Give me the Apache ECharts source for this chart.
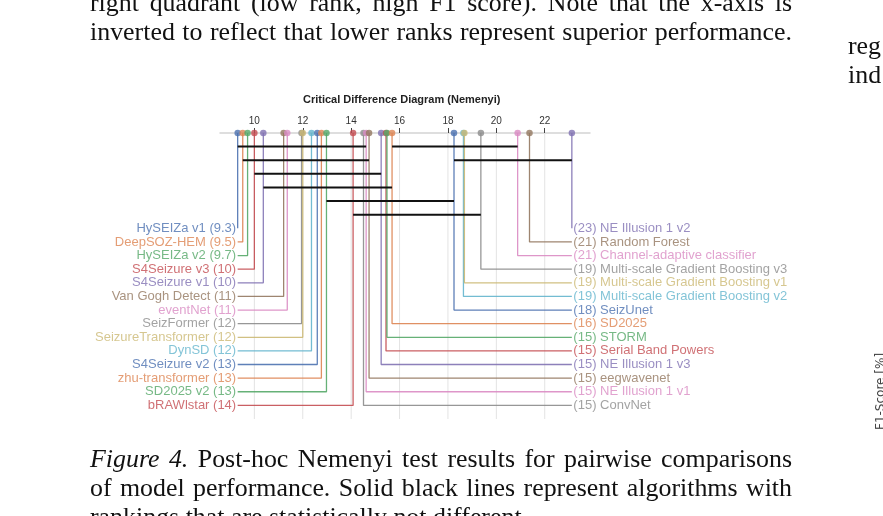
<!DOCTYPE html>
<html>
<head>
<meta charset="utf-8">
<script src="https://cdn.jsdelivr.net/npm/echarts@6/dist/echarts.min.js"></script>
<style>
html, body { margin: 0; padding: 0; background: #fff; }
#page { position: relative; width: 883px; height: 516px; overflow: hidden; }
#chart { position: absolute; left: 0; top: 0; width: 883px; height: 516px; }
.txt { position: absolute; font-family: 'Liberation Serif', 'Times New Roman', serif; font-size: 25.9px; line-height: 29px; color: #111; white-space: nowrap; }
.just { left: 90px; width: 702px; text-align: justify; text-align-last: justify; white-space: normal; }
.side { position: absolute; font-family: 'DejaVu Sans', sans-serif; font-size: 12px; line-height: 12px; color: #444; white-space: nowrap; transform: rotate(-90deg); transform-origin: left top; }
</style>
</head>
<body>
<div id="page">
  <div id="chart"></div>
  <div class="txt just" style="top:-12px">right quadrant (low rank, high F1 score). Note that the x-axis is</div>
  <div class="txt just" style="top:17px">inverted to reflect that lower ranks represent superior performance.</div>
  <div class="txt" style="left:848px; top:31px">reg</div>
  <div class="txt" style="left:848px; top:60px">ind</div>
  <div class="txt just" style="top:444px"><i>Figure 4.</i> Post-hoc Nemenyi test results for pairwise comparisons</div>
  <div class="txt just" style="top:473px">of model performance. Solid black lines represent algorithms with</div>
  <div class="txt" style="left:90px; top:502px">rankings that are statistically not different.</div>
  <div class="side" style="left:874px; top:430px">F1-Score [%]</div>
</div>
<script>
// mean ranks, sorted from best to worst
var modelNames = [
  'HySEIZa v1', 'DeepSOZ-HEM', 'HySEIZa v2', 'S4Seizure v3', 'S4Seizure v1',
  'Van Gogh Detect', 'eventNet', 'SeizFormer', 'SeizureTransformer', 'DynSD',
  'S4Seizure v2', 'zhu-transformer', 'SD2025 v2', 'bRAWlstar',
  'ConvNet', 'NE Illusion 1 v1', 'eegwavenet', 'NE Illusion 1 v3', 'Serial Band Powers',
  'STORM', 'SD2025', 'SeizUnet', 'Multi-scale Gradient Boosting v2',
  'Multi-scale Gradient Boosting v1', 'Multi-scale Gradient Boosting v3',
  'Channel-adaptive classifier', 'Random Forest', 'NE Illusion 1 v2'
];
var meanRanks = [
  9.31, 9.52, 9.72, 10.0, 10.37,
  11.21, 11.36, 11.95, 12.0, 12.36,
  12.6, 12.77, 12.98, 14.08,
  14.51, 14.62, 14.74, 15.24, 15.44,
  15.48, 15.69, 18.25, 18.64,
  18.68, 19.36,
  20.88, 21.37, 23.12
];
// groups not significantly different (first, last member)
var cliques = [
  ['HySEIZa v1', 'NE Illusion 1 v1'],
  ['DeepSOZ-HEM', 'eegwavenet'],
  ['S4Seizure v3', 'NE Illusion 1 v3'],
  ['S4Seizure v1', 'SD2025'],
  ['SD2025 v2', 'SeizUnet'],
  ['bRAWlstar', 'Multi-scale Gradient Boosting v3'],
  ['SD2025', 'Channel-adaptive classifier'],
  ['SeizUnet', 'NE Illusion 1 v2']
];
var xTicks = [10, 12, 14, 16, 18, 20, 22];
var titleText = 'Critical Difference Diagram (Nemenyi)';

var palette = ['#4C72B0', '#DD8452', '#55A868', '#C44E52', '#8172B3',
  '#937860', '#DA8BC3', '#8C8C8C', '#CCB974', '#64B5CD'];
var font = "'Liberation Sans', Arial, sans-serif";

var n = modelNames.length;
var half = n / 2;
var firstRow = 7;
var leftAnchor = meanRanks[0];
var rightAnchor = meanRanks[n - 1];

function rowOf(i) {
  return i < half ? firstRow + i : firstRow + (n - 1 - i);
}
function colorOf(i) {
  if (i < half) return palette[i % 10];
  return palette[((half + 7 - i) % 10 + 10) % 10];
}
function rankOf(name) {
  return meanRanks[modelNames.indexOf(name)];
}

var series = [];

// light vertical grid lines
xTicks.forEach(function (v) {
  series.push({
    type: 'line', silent: true, symbol: 'none', z: 1,
    lineStyle: {color: '#e3e3e3', width: 1},
    data: [[v, 0], [v, 21]]
  });
});

// connectors from the axis down to the labels
var labelData = [];
modelNames.forEach(function (name, i) {
  var r = meanRanks[i];
  var row = rowOf(i);
  var anchor = i < half ? leftAnchor : rightAnchor;
  var c = colorOf(i);
  series.push({
    type: 'line', silent: true, symbol: 'none', z: 2,
    lineStyle: {color: c, width: 1.3, opacity: 0.9},
    data: [[r, 0], [r, row], [anchor, row]]
  });
  var txt = i < half
    ? name + ' (' + r.toPrecision(2) + ')'
    : '(' + r.toPrecision(2) + ') ' + name;
  labelData.push({
    value: [anchor, row],
    label: {
      show: true,
      position: i < half ? 'left' : 'right',
      distance: 1,
      formatter: txt,
      color: c,
      fontSize: 13,
      fontFamily: font
    }
  });
});

// clique bars, greedy row placement
var sorted = cliques.map(function (c) {
  return [rankOf(c[0]), rankOf(c[1])];
}).sort(function (a, b) { return a[0] - b[0]; });
var rowEnds = [];
sorted.forEach(function (c) {
  var k = 0;
  while (k < rowEnds.length && rowEnds[k] >= c[0]) k++;
  rowEnds[k] = c[1];
  series.push({
    type: 'line', silent: true, symbol: 'none', z: 3,
    lineStyle: {color: '#111', width: 2},
    data: [[c[0], k + 1], [c[1], k + 1]]
  });
});

// markers on the axis
series.push({
  type: 'scatter', silent: true, z: 5,
  symbolSize: 6.5,
  data: meanRanks.map(function (r, i) {
    return {value: [r, 0], itemStyle: {color: colorOf(i)}};
  })
});

// text labels
series.push({
  type: 'scatter', silent: true, z: 4,
  symbolSize: 1,
  itemStyle: {color: 'rgba(0,0,0,0)'},
  data: labelData
});

var chart = echarts.init(document.getElementById('chart'));
chart.setOption({
  animation: false,
  backgroundColor: 'transparent',
  title: {
    text: titleText,
    left: 303,
    top: 94,
    padding: 0,
    textStyle: {fontSize: 11, fontWeight: 'bold', color: '#222', fontFamily: font}
  },
  grid: {left: 220, right: 293, top: 133, bottom: 97},
  xAxis: {
    type: 'value',
    position: 'top',
    min: 8.58,
    max: 23.87,
    axisLine: {show: true, onZero: false, lineStyle: {color: '#d4d4d4', width: 1.5}},
    axisTick: {show: true, customValues: xTicks, length: 5, lineStyle: {color: '#444', width: 1}},
    axisLabel: {customValues: xTicks, fontSize: 10, color: '#333', margin: 7, fontFamily: font},
    splitLine: {show: false}
  },
  yAxis: {
    type: 'value',
    min: 0,
    max: 21,
    inverse: true,
    show: false
  },
  series: series
});
</script>
</body>
</html>
